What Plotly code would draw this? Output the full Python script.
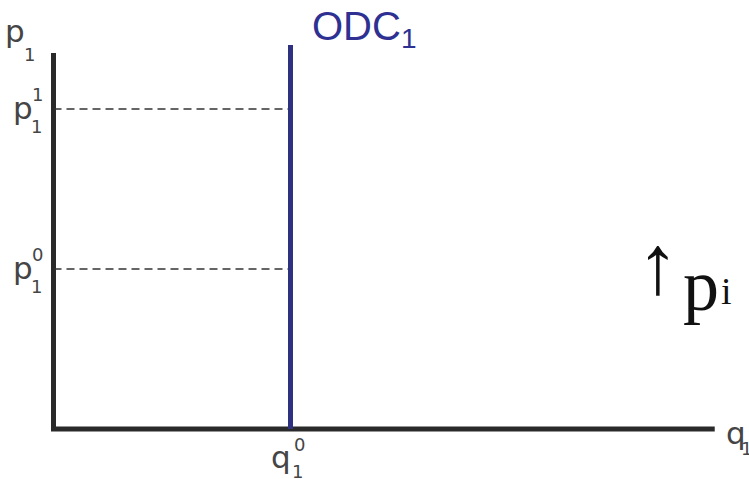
import plotly.graph_objects as go

# Quantities and prices of the fixed-supply good
q_levels = [0.0, 4.0]          # origin, q1^0
p_levels = [2.0, 4.0]          # p1^0, p1^1
q_axis_end = 11.16
p_axis_top = 4.70
odc_top = 4.80

axis_color = "#2a2a2a"
odc_color = "#2e3180"
label_color = "#454545"

q0 = q_levels[1]
p0, p1 = p_levels

fig = go.Figure()

# axes drawn as an L-shaped path
fig.add_trace(go.Scatter(
    x=[0, 0, q_axis_end], y=[p_axis_top, 0, 0],
    mode="lines", line=dict(color=axis_color, width=5),
    hoverinfo="skip", showlegend=False))

# dashed price guides
for p in p_levels:
    fig.add_trace(go.Scatter(
        x=[0, q0], y=[p, p], mode="lines",
        line=dict(color="#333333", width=1.4, dash="8px,5px"),
        hoverinfo="skip", showlegend=False))

# vertical ODC at q1^0
fig.add_trace(go.Scatter(
    x=[q0, q0], y=[0, odc_top], mode="lines",
    line=dict(color=odc_color, width=5),
    hoverinfo="skip", showlegend=False))

ann = []
sans = "DejaVu Sans"
big, small = 31, 18


def txt(x, y, s, size, xa="left", ya="middle", color=label_color, family=sans,
        xref="x", yref="y", xs=0, ys=0):
    ann.append(dict(x=x, y=y, xref=xref, yref=yref, text=s, showarrow=False,
                    xanchor=xa, yanchor=ya, xshift=xs, yshift=ys,
                    font=dict(family=family, size=size, color=color)))


# p1 axis title
txt(0, p_axis_top, "p", big, xa="right", ys=22, xs=-27)
txt(0, p_axis_top, "1", small, xa="right", ys=-1, xs=-17)

# p1^1 and p1^0 tick labels
for p, sup in [(p1, "1"), (p0, "0")]:
    txt(0, p, "p", big, xa="right", xs=-19, ys=1)
    txt(0, p, sup, small, xa="right", xs=-9, ys=15)
    txt(0, p, "1", small, xa="right", xs=-10, ys=-17)

# q1^0 tick label
txt(q0, 0, "q", big, xa="right", ya="top", xs=2, ys=-8)
txt(q0, 0, "0", small, xa="left", ya="top", xs=1, ys=-3)
txt(q0, 0, "1", small, xa="left", ya="top", xs=-1, ys=-30)

# q1 axis title
txt(q_axis_end, 0, "q", big, xa="left", xs=9, ys=-4)
txt(q_axis_end, 0, "1", small, xa="left", xs=24, ys=-19)

# ODC1 label
txt(q0, odc_top, "ODC<sub>1</sub>", 40, xa="left", ya="middle",
    color="#2e3192", family="Liberation Sans", xs=19, ys=16)

# ↑ p_i
serif = "Liberation Serif"
ann.append(dict(x=1.0, y=0.5, xref="paper", yref="paper", text="↑",
                showarrow=False, xanchor="right", yanchor="middle",
                xshift=-68, yshift=-25,
                font=dict(family=serif, size=84, color="#111111")))
ann.append(dict(x=1.0, y=0.5, xref="paper", yref="paper", text="p",
                showarrow=False, xanchor="right", yanchor="middle",
                xshift=-28, yshift=-46,
                font=dict(family=serif, size=72, color="#111111")))
ann.append(dict(x=1.0, y=0.5, xref="paper", yref="paper", text="i",
                showarrow=False, xanchor="right", yanchor="middle",
                xshift=-15, yshift=-51,
                font=dict(family=serif, size=38, color="#111111")))

fig.update_layout(
    width=749, height=479,
    margin=dict(l=0, r=0, t=0, b=0),
    paper_bgcolor="white", plot_bgcolor="white",
    xaxis=dict(range=[-53.5 / 59.25, (749 - 53.5) / 59.25], visible=False, fixedrange=True),
    yaxis=dict(range=[-(479 - 429) / 80, 429 / 80], visible=False, fixedrange=True),
    annotations=ann,
    showlegend=False,
)

fig.write_html("out.html")
